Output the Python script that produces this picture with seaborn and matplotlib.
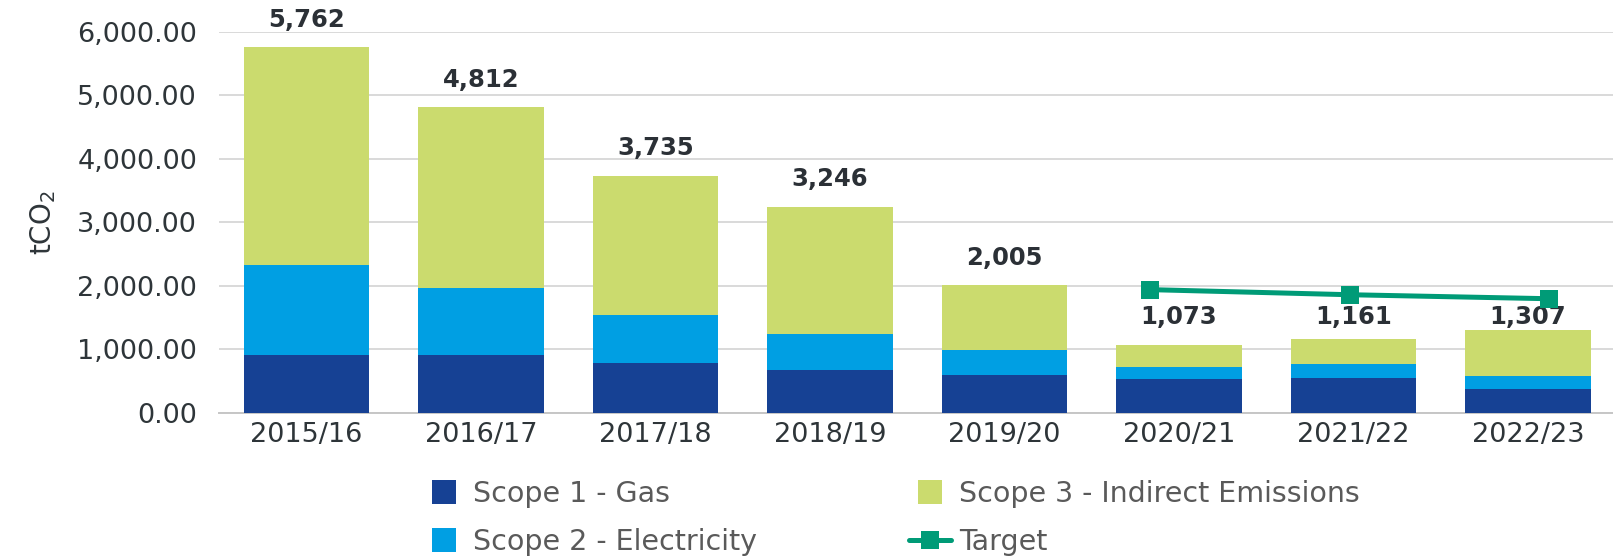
import matplotlib
matplotlib.use("Agg")
import matplotlib.pyplot as plt
import seaborn as sns
import numpy as np
import pandas as pd
from matplotlib.lines import Line2D

# ---------------- data ----------------
years = ["2015/16", "2016/17", "2017/18", "2018/19", "2019/20", "2020/21", "2021/22", "2022/23"]
scope1_gas = [905, 903, 782, 667, 590, 525, 546, 367]
scope2_electricity = [1415, 1060, 751, 566, 392, 188, 214, 205]
scope3_indirect = [3442, 2849, 2202, 2013, 1023, 360, 401, 735]
totals = [5762, 4812, 3735, 3246, 2005, 1073, 1161, 1307]
target_years = ["2020/21", "2021/22", "2022/23"]
target_values = [1938, 1858, 1795]

legend_labels = ["Scope 1 - Gas", "Scope 2 - Electricity",
                 "Scope 3 - Indirect Emissions", "Target"]
yticks = [0, 1000, 2000, 3000, 4000, 5000, 6000]

# ---------------- style ----------------
C1 = "#164194"
C2 = "#009FE3"
C3 = "#CBDB6E"
CT = "#009B77"
TXT = "#2E3539"
LEG = "#5A5A5A"
GRID = "#D9D9D9"

sns.set_theme(style="white")
plt.rcParams["font.family"] = ["DejaVu Sans"]
plt.rcParams["mathtext.default"] = "regular"

fig = plt.figure(figsize=(16.13, 5.6), dpi=100)
ax = fig.add_axes([0.136, 0.263, 0.8653, 0.6804])

df = pd.DataFrame({"year": years, "s1": scope1_gas, "s2": scope2_electricity, "s3": scope3_indirect})
df["c2"] = df["s1"] + df["s2"]
df["c3"] = df["c2"] + df["s3"]

W = 0.72
sns.barplot(data=df, x="year", y="c3", color=C3, saturation=1, width=W, ax=ax, zorder=3)
sns.barplot(data=df, x="year", y="c2", color=C2, saturation=1, width=W, ax=ax, zorder=3)
sns.barplot(data=df, x="year", y="s1", color=C1, saturation=1, width=W, ax=ax, zorder=3)
for p in ax.patches:
    p.set_linewidth(0)

ax.set_xlim(-0.5, 7.5)
ax.set_ylim(0, 6000)
ax.set_yticks(yticks)
ax.set_yticklabels([f"{v:,.2f}" for v in yticks])
ax.yaxis.grid(True, color=GRID, linewidth=1.4, zorder=0)
ax.set_axisbelow(True)
for s in ["top", "right", "left"]:
    ax.spines[s].set_visible(False)
ax.spines["bottom"].set_color("#C6C6C6")
ax.spines["bottom"].set_linewidth(1.4)
ax.tick_params(axis="y", length=0, pad=16, labelsize=19.5, labelcolor=TXT)
ax.tick_params(axis="x", length=0, pad=7, labelsize=19.5, labelcolor=TXT)
ax.set_xlabel("")
ax.set_ylabel("tCO$_2$", fontsize=20, color=TXT, labelpad=14)

# data labels
idx_t = [years.index(y) for y in target_years]
shared = min(totals[i] for i in idx_t)
for i, t in enumerate(totals):
    yv = shared if i in idx_t else t
    ax.annotate(f"{t:,}", xy=(i, yv), xytext=(0, 11), textcoords="offset points",
                ha="center", va="bottom", fontsize=17.5, fontweight="bold", color="#2B3036",
                zorder=6)

# target line on its own category scale
ax2 = ax.twiny()
ax2.set_xlim(0.331, 7.330)
ax2.set_ylim(ax.get_ylim())
tdf = pd.DataFrame({"pos": idx_t, "target": target_values})
sns.lineplot(data=tdf, x="pos", y="target", color=CT, linewidth=3.6, marker="s",
             markersize=13.5, markeredgewidth=0, ax=ax2, zorder=5)
ax2.set_axis_off()

# legend
def sq(c):
    return Line2D([], [], linestyle="none", marker="s", markersize=17, color=c, markeredgewidth=0)
tline = Line2D([], [], color=CT, linewidth=3.6, marker="s", markersize=13.5, markeredgewidth=0)
kw = dict(frameon=False, loc="center left", fontsize=20.5, labelcolor=LEG, handlelength=1.47,
          handletextpad=0.3, labelspacing=0.72, borderpad=0, borderaxespad=0)
fig.legend([sq(C1), sq(C2)], legend_labels[:2], bbox_to_anchor=(0.262, 0.075), **kw)
fig.legend([sq(C3), tline], legend_labels[2:], bbox_to_anchor=(0.5636, 0.075), **kw)

fig.savefig("out.png", dpi=100)
